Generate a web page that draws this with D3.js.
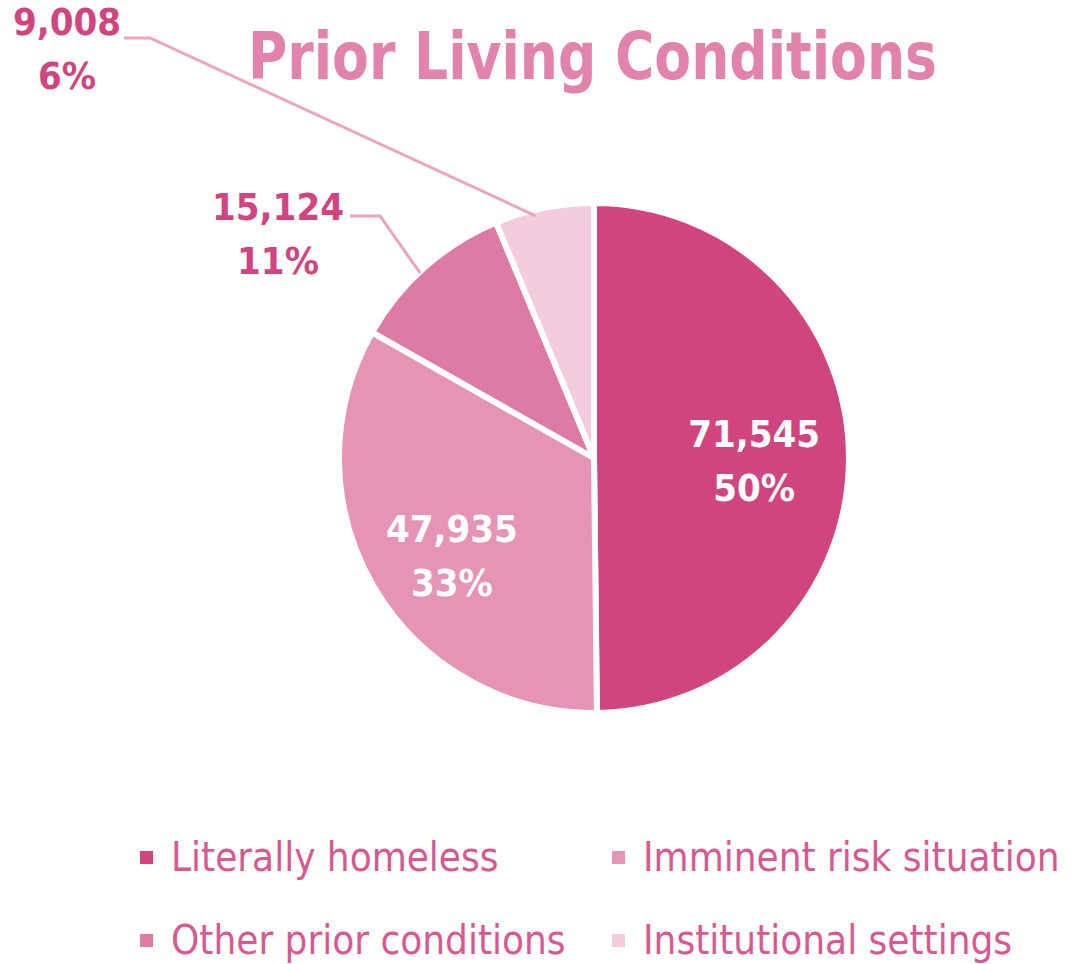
<!DOCTYPE html>
<html>
<head>
<meta charset="utf-8">
<script src="https://cdn.jsdelivr.net/npm/d3@7"></script>
<style>
  body { margin: 0; background: #fff; }
  svg { display: block; }
</style>
</head>
<body>
<svg id="chart" width="1073" height="964"></svg>
<script>
// data
var categories = ["Literally homeless", "Imminent risk situation", "Other prior conditions", "Institutional settings"];
var counts = [71545, 47935, 15124, 9008];
var percents = ["50%", "33%", "11%", "6%"];
var colours = ["#D1457F", "#E594B5", "#DE7BA5", "#F3CDDD"];

var svg = d3.select("#chart");
var cx = 594, cy = 458, radius = 255;
var narrow = "'Liberation Sans Narrow', 'DejaVu Sans Condensed', sans-serif";

// title
svg.append("text")
    .attr("x", 248)
    .attr("y", 79)
    .attr("textLength", 689)
    .attr("lengthAdjust", "spacingAndGlyphs")
    .attr("fill", "#E283AC")
    .style("font-family", narrow)
    .style("font-weight", "bold")
    .style("font-size", "66px")
    .text("Prior Living Conditions");

var pie = d3.pie().sort(null).value(function(d) { return d; });
var arcs = pie(counts);
var arc = d3.arc().innerRadius(0).outerRadius(radius);

var g = svg.append("g").attr("transform", "translate(" + cx + "," + cy + ")");

g.selectAll("path")
    .data(arcs)
    .enter().append("path")
    .attr("d", arc)
    .attr("fill", function(d, i) { return colours[i]; })
    .attr("stroke", "#fff")
    .attr("stroke-width", 6)
    .attr("stroke-linejoin", "round");

// inside labels (big slices)
var inner = d3.arc().innerRadius(radius * 0.62).outerRadius(radius * 0.62);
var inside = [{ i: 0, dx: 2, dy: -2 }, { i: 1, dx: -6, dy: 12 }];
inside.forEach(function(o) {
    var c = inner.centroid(arcs[o.i]);
    var x = c[0] + o.dx, y = c[1] + o.dy;
    var t = g.append("text")
        .attr("text-anchor", "middle")
        .attr("fill", "#fff")
        .style("font-family", narrow)
        .style("font-weight", "bold")
        .style("font-size", "38px");
    t.append("tspan").attr("x", x).attr("y", y - 8).text(d3.format(",")(counts[o.i]));
    t.append("tspan").attr("x", x).attr("y", y + 46).text(percents[o.i]);
});

// outside labels with leader lines
var outside = [
    { i: 2, lx: 278, ly: 220, hx0: 350, hx1: 380, hy: 216 },
    { i: 3, lx: 67, ly: 35, hx0: 124, hx1: 150, hy: 38 }
];
var edge = d3.arc().innerRadius(radius - 8).outerRadius(radius - 8);
outside.forEach(function(o) {
    var p = edge.centroid(arcs[o.i]);
    svg.append("polyline")
        .attr("points", [[o.hx0, o.hy], [o.hx1, o.hy], [cx + p[0] - 10, cy + p[1]]].map(function(q) { return q.join(","); }).join(" "))
        .attr("fill", "none")
        .attr("stroke", "#EBA4C2")
        .attr("stroke-width", 3);
    var t = svg.append("text")
        .attr("text-anchor", "middle")
        .attr("fill", "#D1457F")
        .style("font-family", narrow)
        .style("font-weight", "bold")
        .style("font-size", "38px");
    t.append("tspan").attr("x", o.lx).attr("y", o.ly).text(d3.format(",")(counts[o.i]));
    t.append("tspan").attr("x", o.lx).attr("y", o.ly + 54).text(percents[o.i]);
});

// legend
var legX = [140, 612], legY = [857, 940];
var leg = svg.selectAll(".leg")
    .data(categories)
    .enter().append("g")
    .attr("class", "leg")
    .attr("transform", function(d, i) { return "translate(" + legX[i % 2] + "," + legY[Math.floor(i / 2)] + ")"; });
leg.append("rect")
    .attr("x", 0).attr("y", -6)
    .attr("width", 13).attr("height", 13)
    .attr("fill", function(d, i) { return colours[i]; });
leg.append("text")
    .attr("x", 31).attr("y", 14)
    .attr("fill", "#D65A8F")
    .style("font-family", narrow)
    .style("font-size", "40px")
    .text(function(d) { return d; });
</script>
</body>
</html>
